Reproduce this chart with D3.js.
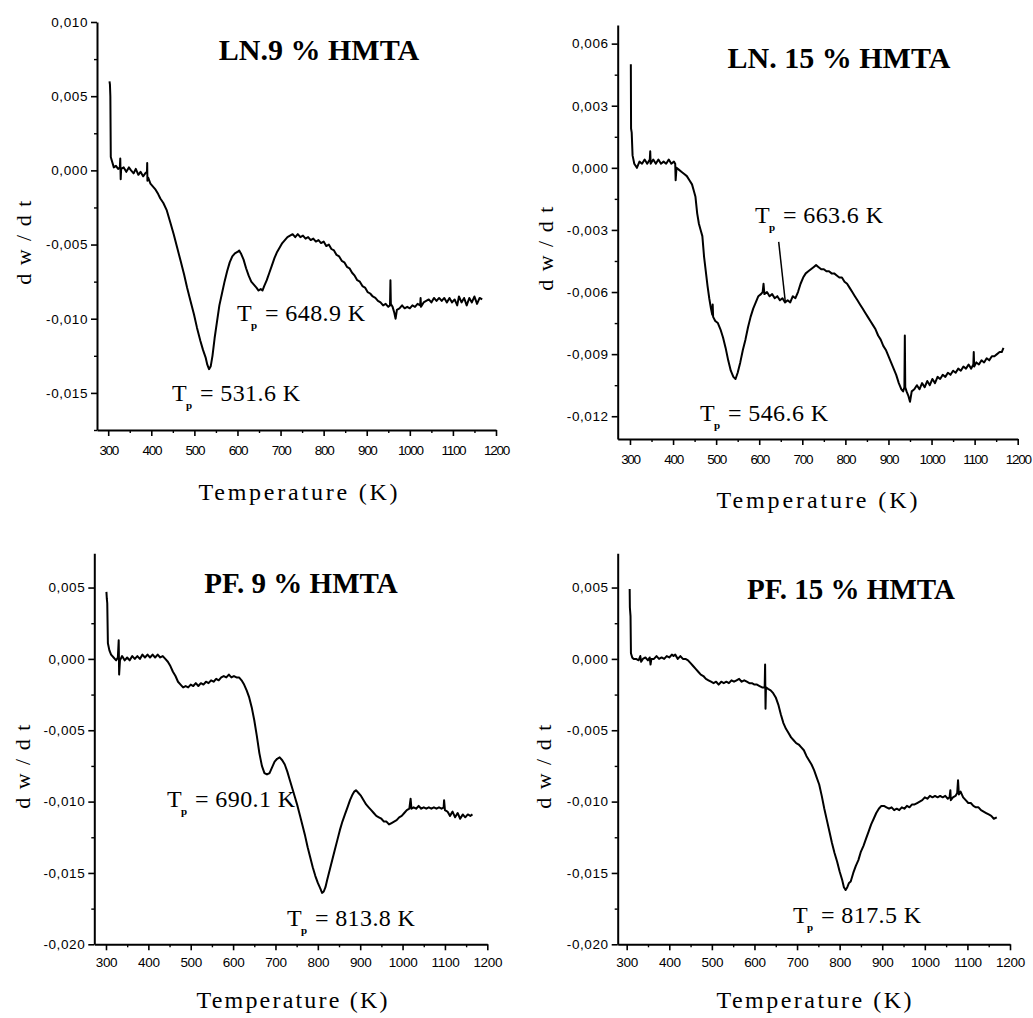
<!DOCTYPE html>
<html><head><meta charset="utf-8">
<script src="https://cdn.jsdelivr.net/npm/d3@7"></script>
<style>
body{margin:0;background:#fff;}
svg{display:block;}
.tick text{font-family:"Liberation Sans",Arial,sans-serif;fill:#000;}
</style></head><body>
<svg id="c" width="1033" height="1018"></svg>
<script>
// ---------- DATA ----------
const xTicks = [300,400,500,600,700,800,900,1000,1100,1200];
const xMinorTicks = [350,450,550,650,750,850,950,1050,1150];

const ln9Title = "LN.9 % HMTA";
const ln15Title = "LN. 15 % HMTA";
const pf9Title = "PF. 9 % HMTA";
const pf15Title = "PF. 15 % HMTA";

const ln9YTicks = [-0.015,-0.010,-0.005,0,0.005,0.010];
const ln9YMinor = [-0.0175,-0.0125,-0.0075,-0.0025,0.0025,0.0075];
const ln15YTicks = [-0.012,-0.009,-0.006,-0.003,0,0.003,0.006];
const ln15YMinor = [-0.0105,-0.0075,-0.0045,-0.0015,0.0015,0.0045];
const pfYTicks = [-0.020,-0.015,-0.010,-0.005,0,0.005];
const pfYMinor = [-0.0175,-0.0125,-0.0075,-0.0025,0.0025];

// [temperature K, dw/dt]
const ln9 = [[303,0.0060],[304,0.0058],[305,0.0050],[306,0.0009],[309,0.0006],[313,0.0002],[318,0.0003],[323,0.0001],[327,0.0002],[328,0.0008],[329,-0.0006],[330,0.0001],[336,0.0002],[342,-0.0001],[348,0.0002],[353,0.0000],[359,-0.0002],[364,0.0001],[370,-0.0003],[375,-0.0001],[381,-0.0004],[386,-0.0002],[390,-0.0001],[390.5,0.0005],[391,-0.0007],[393,-0.0005],[398,-0.0009],[404,-0.0011],[410,-0.0013],[416,-0.0016],[421,-0.0019],[428,-0.0022],[436,-0.0027],[444,-0.0035],[452,-0.0043],[460,-0.0052],[468,-0.0061],[476,-0.0070],[483,-0.0079],[491,-0.0088],[499,-0.0097],[506,-0.0106],[514,-0.0115],[520,-0.0121],[526,-0.0126],[530,-0.0131],[534,-0.0134],[538,-0.0132],[542,-0.0125],[547,-0.0113],[553,-0.0101],[558,-0.0091],[564,-0.0083],[570,-0.0075],[576,-0.0068],[582,-0.0062],[588,-0.0058],[594,-0.0056],[600,-0.0055],[604,-0.0054],[608,-0.0056],[614,-0.0060],[620,-0.0066],[626,-0.0071],[632,-0.0075],[638,-0.0077],[644,-0.0079],[649,-0.0081],[654,-0.0080],[658,-0.0081],[662,-0.0078],[668,-0.0074],[674,-0.0069],[680,-0.0064],[686,-0.0059],[692,-0.0055],[698,-0.0052],[704,-0.0049],[710,-0.0047],[716,-0.0045],[722,-0.0044],[728,-0.0043],[734,-0.0045],[740,-0.0043],[746,-0.0045],[752,-0.0044],[758,-0.0046],[764,-0.0045],[770,-0.0047],[776,-0.0046],[782,-0.0048],[788,-0.0047],[794,-0.0049],[800,-0.0048],[806,-0.0051],[812,-0.0050],[818,-0.0053],[824,-0.0054],[830,-0.0057],[836,-0.0058],[842,-0.0061],[848,-0.0062],[854,-0.0065],[860,-0.0066],[866,-0.0069],[872,-0.0071],[878,-0.0074],[884,-0.0075],[890,-0.0078],[896,-0.0079],[902,-0.0082],[908,-0.0083],[914,-0.0085],[920,-0.0086],[926,-0.0088],[932,-0.0089],[938,-0.0091],[944,-0.0090],[950,-0.0092],[954,-0.0091],[955,-0.0074],[956,-0.0090],[960,-0.0092],[964,-0.0096],[967,-0.0100],[970,-0.0094],[976,-0.0093],[982,-0.0091],[988,-0.0093],[994,-0.0092],[1000,-0.0093],[1006,-0.0091],[1012,-0.0092],[1018,-0.0090],[1024,-0.0091],[1025,-0.0086],[1026,-0.0092],[1032,-0.0089],[1038,-0.0088],[1044,-0.0087],[1050,-0.0089],[1056,-0.0086],[1062,-0.0088],[1068,-0.0086],[1074,-0.0088],[1080,-0.0086],[1086,-0.0089],[1092,-0.0086],[1098,-0.0089],[1104,-0.0087],[1110,-0.0091],[1114,-0.0085],[1120,-0.0089],[1126,-0.0086],[1132,-0.0091],[1138,-0.0086],[1144,-0.0089],[1150,-0.0085],[1156,-0.0090],[1162,-0.0086],[1168,-0.0087]];

const ln15 = [[302,0.0050],[302.5,0.0019],[304,0.0017],[306,0.0006],[310,0.0002],[316,0.0000],[322,0.0003],[328,0.0002],[334,0.0004],[340,0.0002],[346,0.0004],[347,0.0008],[348,0.0002],[354,0.0004],[360,0.0002],[366,0.0004],[372,0.0002],[378,0.0003],[384,0.0002],[390,0.0004],[396,0.0002],[402,0.0003],[405,0.0002],[406,-0.0006],[408,0.0000],[414,-0.0001],[420,-0.0002],[426,-0.0003],[432,-0.0004],[438,-0.0006],[444,-0.0008],[448,-0.0011],[452,-0.0014],[456,-0.0022],[460,-0.0027],[464,-0.0030],[468,-0.0033],[472,-0.0043],[476,-0.0050],[480,-0.0057],[484,-0.0063],[488,-0.0068],[491,-0.0071],[492,-0.0066],[493,-0.0072],[498,-0.0074],[504,-0.0075],[510,-0.0078],[516,-0.0082],[522,-0.0087],[528,-0.0093],[534,-0.0098],[540,-0.0101],[545,-0.0102],[550,-0.0099],[556,-0.0094],[562,-0.0088],[568,-0.0083],[574,-0.0077],[580,-0.0072],[586,-0.0068],[592,-0.0065],[598,-0.0062],[604,-0.0061],[608,-0.0060],[610,-0.0056],[612,-0.0061],[618,-0.0060],[624,-0.0062],[630,-0.0061],[636,-0.0063],[642,-0.0062],[648,-0.0064],[654,-0.0063],[660,-0.0065],[666,-0.0064],[672,-0.0065],[678,-0.0062],[684,-0.0063],[690,-0.0060],[696,-0.0056],[702,-0.0053],[708,-0.0051],[714,-0.0050],[720,-0.0049],[726,-0.0048],[732,-0.0047],[738,-0.0048],[744,-0.0049],[750,-0.0049],[756,-0.0050],[762,-0.0050],[768,-0.0051],[774,-0.0051],[780,-0.0052],[786,-0.0053],[792,-0.0053],[798,-0.0055],[804,-0.0056],[810,-0.0058],[816,-0.0060],[822,-0.0062],[828,-0.0064],[834,-0.0066],[840,-0.0068],[846,-0.0070],[852,-0.0072],[858,-0.0074],[864,-0.0076],[870,-0.0078],[876,-0.0081],[882,-0.0083],[888,-0.0086],[894,-0.0088],[900,-0.0091],[906,-0.0094],[912,-0.0097],[918,-0.0100],[924,-0.0104],[930,-0.0107],[934,-0.0108],[937,-0.0106],[938,-0.0081],[939,-0.0106],[942,-0.0108],[946,-0.0110],[950,-0.0113],[954,-0.0108],[960,-0.0107],[966,-0.0105],[972,-0.0107],[978,-0.0104],[984,-0.0106],[990,-0.0103],[996,-0.0105],[1002,-0.0102],[1008,-0.0104],[1014,-0.0101],[1020,-0.0102],[1026,-0.0100],[1032,-0.0101],[1038,-0.0099],[1044,-0.0100],[1050,-0.0098],[1056,-0.0099],[1062,-0.0097],[1068,-0.0098],[1074,-0.0096],[1080,-0.0097],[1086,-0.0095],[1092,-0.0097],[1097,-0.0095],[1098,-0.0089],[1099,-0.0096],[1104,-0.0094],[1110,-0.0095],[1116,-0.0093],[1122,-0.0094],[1128,-0.0092],[1134,-0.0093],[1140,-0.0091],[1146,-0.0091],[1152,-0.0090],[1158,-0.0089],[1163,-0.0089],[1167,-0.0087]];

const pf9 = [[301,0.0047],[302,0.0042],[303,0.0039],[304.5,0.0011],[308,0.0006],[312,0.0003],[318,0.0001],[324,-0.0001],[328,0.0001],[330,0.0013],[331,-0.0011],[333,-0.0001],[338,0.0002],[344,-0.0001],[350,0.0001],[356,-0.0001],[362,0.0002],[368,0.0000],[374,0.0002],[380,0.0000],[386,0.0003],[392,0.0001],[398,0.0003],[404,0.0001],[410,0.0003],[416,0.0001],[422,0.0003],[428,0.0001],[434,0.0002],[440,0.0000],[446,-0.0002],[452,-0.0005],[458,-0.0009],[464,-0.0012],[470,-0.0016],[476,-0.0018],[482,-0.0020],[488,-0.0019],[494,-0.0020],[500,-0.0018],[506,-0.0019],[512,-0.0017],[518,-0.0019],[524,-0.0017],[530,-0.0018],[536,-0.0016],[542,-0.0017],[548,-0.0015],[554,-0.0016],[560,-0.0014],[566,-0.0015],[572,-0.0013],[578,-0.0012],[584,-0.0013],[590,-0.0011],[596,-0.0013],[602,-0.0012],[608,-0.0013],[614,-0.0013],[620,-0.0015],[626,-0.0018],[632,-0.0022],[638,-0.0027],[644,-0.0034],[650,-0.0043],[656,-0.0054],[662,-0.0066],[668,-0.0075],[674,-0.0080],[680,-0.0081],[686,-0.0080],[692,-0.0076],[698,-0.0072],[704,-0.0070],[710,-0.0069],[716,-0.0071],[722,-0.0074],[728,-0.0079],[734,-0.0085],[740,-0.0091],[746,-0.0097],[752,-0.0103],[758,-0.0110],[764,-0.0117],[770,-0.0124],[776,-0.0132],[782,-0.0139],[788,-0.0146],[794,-0.0152],[800,-0.0157],[806,-0.0161],[810,-0.0164],[814,-0.0163],[818,-0.0160],[822,-0.0155],[828,-0.0148],[834,-0.0141],[840,-0.0134],[846,-0.0127],[852,-0.0120],[858,-0.0114],[864,-0.0109],[870,-0.0104],[876,-0.0099],[882,-0.0095],[886,-0.0093],[890,-0.0092],[896,-0.0094],[902,-0.0096],[908,-0.0099],[914,-0.0102],[920,-0.0104],[926,-0.0106],[932,-0.0108],[938,-0.0110],[944,-0.0111],[950,-0.0112],[956,-0.0114],[962,-0.0114],[968,-0.0116],[974,-0.0115],[980,-0.0114],[986,-0.0113],[992,-0.0111],[998,-0.0110],[1004,-0.0108],[1010,-0.0106],[1016,-0.0105],[1019,-0.0098],[1021,-0.0105],[1026,-0.0104],[1032,-0.0105],[1038,-0.0103],[1044,-0.0105],[1050,-0.0104],[1056,-0.0105],[1062,-0.0104],[1068,-0.0105],[1074,-0.0104],[1080,-0.0105],[1086,-0.0104],[1092,-0.0105],[1097,-0.0104],[1098,-0.0099],[1100,-0.0106],[1106,-0.0107],[1112,-0.0110],[1118,-0.0107],[1124,-0.0111],[1130,-0.0108],[1136,-0.0112],[1142,-0.0109],[1148,-0.0111],[1154,-0.0109],[1160,-0.0110],[1165,-0.0109]];

const pf15 = [[307,0.0049],[307.5,0.0036],[309,0.0030],[310,0.0004],[313,0.0001],[316,0.0000],[322,0.0000],[328,-0.0001],[332,0.0002],[334,-0.0002],[338,0.0000],[344,0.0001],[350,-0.0001],[354,0.0001],[356,-0.0004],[358,0.0000],[364,0.0000],[370,0.0002],[376,0.0000],[382,0.0001],[388,0.0000],[394,0.0002],[400,0.0001],[406,0.0003],[410,0.0002],[414,0.0003],[420,0.0000],[426,0.0002],[432,0.0000],[438,0.0000],[444,-0.0001],[450,-0.0003],[456,-0.0005],[462,-0.0007],[468,-0.0009],[474,-0.0011],[480,-0.0012],[486,-0.0014],[492,-0.0015],[498,-0.0016],[504,-0.0017],[510,-0.0016],[516,-0.0018],[522,-0.0016],[528,-0.0017],[534,-0.0016],[540,-0.0017],[546,-0.0015],[552,-0.0016],[558,-0.0015],[564,-0.0014],[570,-0.0016],[576,-0.0015],[582,-0.0016],[588,-0.0017],[594,-0.0017],[600,-0.0018],[606,-0.0018],[612,-0.0019],[618,-0.0020],[624,-0.0020],[625,-0.0004],[626,-0.0035],[627,-0.0020],[632,-0.0021],[638,-0.0022],[644,-0.0024],[650,-0.0027],[656,-0.0032],[662,-0.0039],[668,-0.0045],[674,-0.0049],[680,-0.0052],[686,-0.0055],[692,-0.0057],[698,-0.0059],[704,-0.0060],[710,-0.0062],[716,-0.0064],[722,-0.0068],[728,-0.0071],[734,-0.0074],[740,-0.0078],[746,-0.0083],[752,-0.0088],[758,-0.0096],[764,-0.0105],[770,-0.0113],[776,-0.0121],[782,-0.0129],[788,-0.0136],[794,-0.0142],[800,-0.0149],[806,-0.0155],[810,-0.0160],[814,-0.0162],[818,-0.0160],[822,-0.0157],[826,-0.0156],[832,-0.0150],[838,-0.0145],[844,-0.0141],[850,-0.0135],[856,-0.0131],[862,-0.0126],[868,-0.0121],[874,-0.0116],[880,-0.0112],[886,-0.0108],[892,-0.0105],[898,-0.0103],[904,-0.0103],[910,-0.0104],[916,-0.0105],[922,-0.0104],[928,-0.0106],[934,-0.0105],[940,-0.0106],[946,-0.0104],[952,-0.0105],[958,-0.0103],[964,-0.0104],[970,-0.0102],[976,-0.0102],[982,-0.0101],[988,-0.0100],[994,-0.0099],[1000,-0.0097],[1006,-0.0098],[1012,-0.0096],[1018,-0.0097],[1024,-0.0096],[1030,-0.0097],[1036,-0.0096],[1042,-0.0097],[1048,-0.0096],[1054,-0.0098],[1058,-0.0097],[1060,-0.0092],[1061,-0.0099],[1066,-0.0097],[1072,-0.0096],[1076,-0.0094],[1078,-0.0085],[1080,-0.0095],[1084,-0.0093],[1090,-0.0097],[1096,-0.0099],[1102,-0.0101],[1108,-0.0101],[1114,-0.0103],[1120,-0.0104],[1126,-0.0104],[1132,-0.0106],[1138,-0.0107],[1144,-0.0108],[1150,-0.0109],[1156,-0.0110],[1162,-0.0112],[1169,-0.0111]];

// annotation texts with anchor in data coordinates [T, value]
const ln9Notes = [{t:599, v:-0.01014, text:"648.9 K"},{t:448, v:-0.01554, text:"531.6 K"}];
const ln15Notes = [{t:590, v:-0.00268, text:"663.6 K"},{t:462.5, v:-0.01221, text:"546.6 K"}];
const ln15Pointer = [[645.2,-0.00358],[660.6,-0.00648]];
const pf9Notes = [{t:444, v:-0.01038, text:"690.1 K"},{t:727, v:-0.01872, text:"813.8 K"}];
const pf15Notes = [{t:690.5, v:-0.01851, text:"817.5 K"}];

// ---------- LAYOUT ----------
const panels = [
  {data:ln9, title:ln9Title, xd:[274,1200], xr:[97,496], yd:[-0.0175,0.010], yr:[430,22],
   yt:ln9YTicks, ym:ln9YMinor, notes:ln9Notes, tx:319, ty:60, tfs:30,
   xl:[298,500,199], yl:[23,242], xcond:true},
  {data:ln15, title:ln15Title, xd:[271.5,1200], xr:[617.7,1017.7], yd:[-0.0131,0.0069], yr:[439,25],
   yt:ln15YTicks, ym:ln15YMinor, notes:ln15Notes, pointer:ln15Pointer, tx:839, ty:68, tfs:30,
   xl:[817,508,201], yl:[545,248], xcond:true},
  {data:pf9, title:pf9Title, xd:[272.4,1200], xr:[94.3,487.3], yd:[-0.020,0.0074], yr:[944.3,553.3],
   yt:pfYTicks, ym:pfYMinor, notes:pf9Notes, tx:301, ty:593, tfs:29,
   xl:[292,1008,191], yl:[22,766], xcond:false},
  {data:pf15, title:pf15Title, xd:[278.9,1200], xr:[617.7,1010], yd:[-0.020,0.0074], yr:[944.3,553.3],
   yt:pfYTicks, ym:pfYMinor, notes:pf15Notes, tx:851, ty:599, tfs:29,
   xl:[814,1008,195], yl:[543,766], xcond:false}
];

const loc = d3.formatLocale({decimal:",", thousands:".", grouping:[3], currency:["",""], minus:"-"});
const yfmt = loc.format(".3f");
const svg = d3.select("#c");
const serif = '"Liberation Serif","Times New Roman",serif';

panels.forEach(p => {
  const x = d3.scaleLinear().domain(p.xd).range(p.xr);
  const y = d3.scaleLinear().domain(p.yd).range(p.yr);
  const g = svg.append("g");

  // minor ticks
  g.append("g").attr("transform",`translate(0,${p.yr[0]})`)
    .call(d3.axisBottom(x).tickValues(xMinorTicks).tickSize(3).tickSizeOuter(0).tickFormat(""))
    .call(a=>a.select(".domain").remove())
    .call(a=>a.selectAll("line").attr("stroke-width",1.4));
  g.append("g").attr("transform",`translate(${p.xr[0]},0)`)
    .call(d3.axisLeft(y).tickValues(p.ym).tickSize(3).tickSizeOuter(0).tickFormat(""))
    .call(a=>a.select(".domain").remove())
    .call(a=>a.selectAll("line").attr("stroke-width",1.4));

  // x axis
  const xa = g.append("g").attr("transform",`translate(0,${p.yr[0]})`)
    .call(d3.axisBottom(x).tickValues(xTicks).tickSize(6).tickSizeOuter(0).tickPadding(p.xcond?9:7).tickFormat(d3.format("d")));
  xa.select(".domain").attr("stroke-width",2);
  xa.selectAll("line").attr("stroke-width",1.6);
  xa.selectAll("text").attr("font-size",13.5).attr("letter-spacing", p.xcond?"-1.3px":"-0.3px");

  // y axis
  const ya = g.append("g").attr("transform",`translate(${p.xr[0]},0)`)
    .call(d3.axisLeft(y).tickValues(p.yt).tickSize(6).tickSizeOuter(0).tickPadding(3).tickFormat(yfmt));
  ya.select(".domain").attr("stroke-width",2);
  ya.selectAll("line").attr("stroke-width",1.6);
  ya.selectAll("text").attr("font-size",13.5).attr("letter-spacing","0.6px");

  // curve
  g.append("path").datum(p.data)
    .attr("fill","none").attr("stroke","#000").attr("stroke-width",2).attr("stroke-linejoin","round")
    .attr("d", d3.line().x(d=>x(d[0])).y(d=>y(d[1])));

  if (p.pointer) {
    g.append("path").datum(p.pointer)
      .attr("fill","none").attr("stroke","#000").attr("stroke-width",1.5)
      .attr("d", d3.line().x(d=>x(d[0])).y(d=>y(d[1])));
  }

  // title
  g.append("text").attr("x",p.tx).attr("y",p.ty).attr("text-anchor","middle")
    .attr("font-family",serif).attr("font-weight","bold").attr("font-size",p.tfs).text(p.title);

  // annotations
  p.notes.forEach(n => {
    const t = g.append("text").attr("x",x(n.t)).attr("y",y(n.v))
      .attr("font-family",serif).attr("font-size",24).attr("letter-spacing","0.4px");
    t.append("tspan").text("T");
    t.append("tspan").attr("dy",8).attr("dx",-1).attr("font-size",11).attr("font-weight","bold").text("p");
    t.append("tspan").attr("dy",-8).attr("dx",1).text(" = " + n.text);
  });

  // axis titles
  g.append("text").attr("x",p.xl[0]).attr("y",p.xl[1]).attr("text-anchor","middle")
    .attr("font-family",serif).attr("font-size",24)
    .attr("textLength",p.xl[2]).attr("lengthAdjust","spacing").text("Temperature (K)");
  g.append("text").attr("transform",`translate(${p.yl[0]},${p.yl[1]}) rotate(-90)`)
    .attr("text-anchor","middle").attr("dominant-baseline","central")
    .attr("font-family",serif).attr("font-size",22).attr("letter-spacing","1.5px").text("d w / d t");
});
</script>
</body></html>
